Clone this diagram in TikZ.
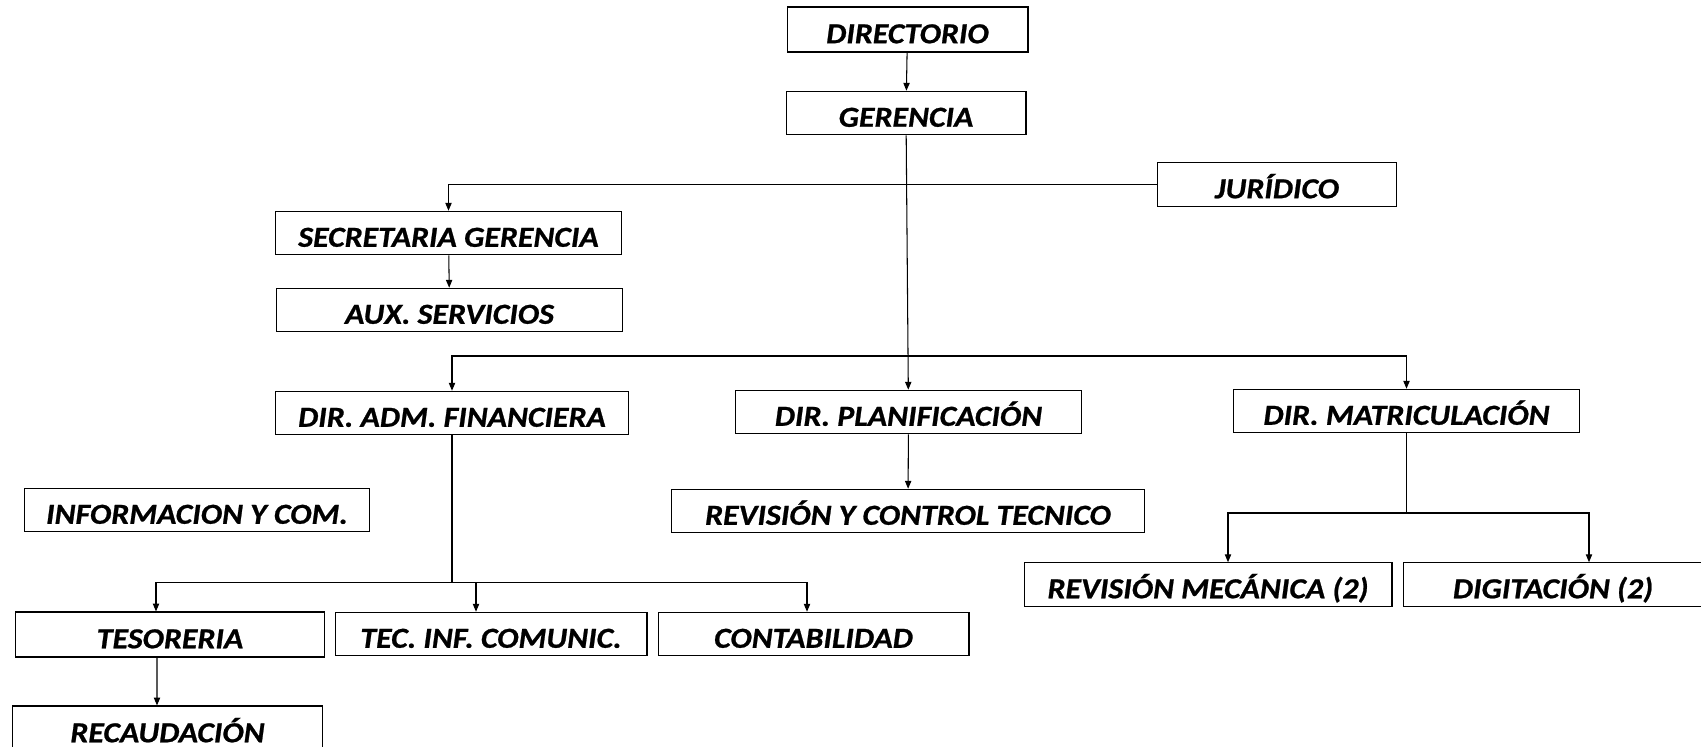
\documentclass[tikz,border=0pt]{standalone}
\usepackage{fontspec}
\setmainfont{Carlito}[FakeStretch=1.1, FakeBold=0.8]
\usetikzlibrary{arrows.meta}

\tikzset{
  unit/.style={draw, line width=0.6pt, inner sep=0pt, minimum height=0.87cm,
    text height=0.55cm, text depth=0cm,
    font=\fontsize{16.5}{19}\selectfont\bfseries\itshape},
  arr/.style={-{Triangle[length=4.5pt, width=3.6pt]}, line width=0.6pt},
  link/.style={line width=0.6pt}
}

\begin{document}
\begin{tikzpicture}[x=0.02cm, y=-0.02cm]
    \useasboundingbox (0, 0) rectangle (1701, 747);

    \node[unit, minimum width=4.82cm, minimum height=0.9cm] (dir) at (907.5, 29.5) {DIRECTORIO};
    \node[unit, minimum width=4.8cm] (ger) at (906, 113) {GERENCIA};
    \node[unit, minimum width=4.78cm] (jur) at (1277, 184.5) {JURÍDICO};

    \node[unit, minimum width=6.92cm] (sec) at (448.5, 233) {SECRETARIA GERENCIA};
    \node[unit, minimum width=6.92cm] (aux) at (449.5, 310) {AUX. SERVICIOS};

    \node[unit, minimum width=7.07cm] (dadm) at (452, 413) {DIR. ADM. FINANCIERA};
    \node[unit, minimum width=6.92cm] (dplan) at (908.5, 412) {DIR. PLANIFICACIÓN};
    \node[unit, minimum width=6.92cm] (dmat) at (1406.5, 411) {DIR. MATRICULACIÓN};

    \node[unit, minimum width=6.92cm] (info) at (197, 510) {INFORMACION Y COM.};
    \node[unit, minimum width=9.46cm] (rctl) at (908, 511) {REVISIÓN Y CONTROL TECNICO};

    \node[unit, minimum width=7.36cm] (rmec) at (1208, 584.5) {REVISIÓN MECÁNICA (2)};
    \node[unit, minimum width=6.0cm] (digit) at (1553, 584.5) {DIGITACIÓN (2)};

    \node[unit, minimum width=6.2cm, minimum height=0.9cm] (teso) at (170, 634.5) {TESORERIA};
    \node[unit, minimum width=6.24cm] (tec) at (491, 634) {TEC. INF. COMUNIC.};
    \node[unit, minimum width=6.22cm] (cont) at (813.5, 634) {CONTABILIDAD};
    \node[unit, minimum width=6.22cm, minimum height=0.9cm] (rec) at (167.5, 728.5) {RECAUDACIÓN};

    \coordinate (bar1) at (907, 356);
    \coordinate (bar2) at (452, 582.5);
    \coordinate (bar3) at (1406.5, 513);

    \draw[arr] (dir) -- (ger);
    \draw[arr] (ger) -- (dplan);
    \draw[arr] (jur.west) -| (sec.north);
    \draw[arr] (sec) -- (aux);

    \draw[arr] (bar1) -| (dadm.north);
    \draw[arr] (bar1) -| (dmat.north);

    \draw[link] (dadm) -- (bar2);
    \draw[arr] (bar2) -| ([xshift=-0.28cm]teso.north);
    \draw[arr] (bar2) -| ([xshift=-0.3cm]tec.north);
    \draw[arr] (bar2) -| ([xshift=-0.13cm]cont.north);
    \draw[arr] ([xshift=-0.26cm]teso.south) -- ([xshift=-0.21cm]rec.north);

    \draw[arr] (dplan) -- (rctl);

    \draw[link] (dmat) -- (bar3);
    \draw[arr] (bar3) -| ([xshift=0.4cm]rmec.north);
    \draw[arr] (bar3) -| ([xshift=0.72cm]digit.north);
  \end{tikzpicture}
\end{document}
